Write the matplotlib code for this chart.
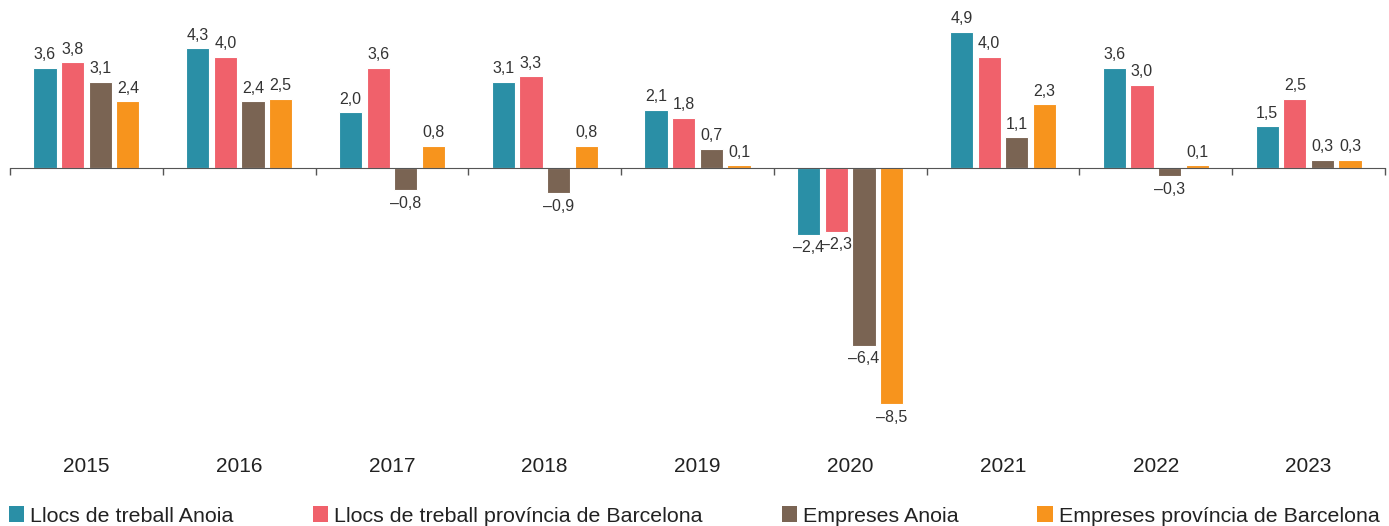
import numpy as np
import matplotlib.pyplot as plt
from matplotlib.patches import Patch
from matplotlib.ticker import FixedLocator

plt.rcParams['font.family'] = ['Liberation Sans', 'DejaVu Sans']

years = ["2015", "2016", "2017", "2018", "2019", "2020", "2021", "2022", "2023"]
llocs_anoia = [3.6, 4.3, 2.0, 3.1, 2.1, -2.4, 4.9, 3.6, 1.5]
llocs_bcn = [3.8, 4.0, 3.6, 3.3, 1.8, -2.3, 4.0, 3.0, 2.5]
empreses_anoia = [3.1, 2.4, -0.8, -0.9, 0.7, -6.4, 1.1, -0.3, 0.3]
empreses_bcn = [2.4, 2.5, 0.8, 0.8, 0.1, -8.5, 2.3, 0.1, 0.3]

series_names = [
    "Llocs de treball Anoia",
    "Llocs de treball província de Barcelona",
    "Empreses Anoia",
    "Empreses província de Barcelona",
]
colors = ["#2a8fa6", "#f0616b", "#7a6453", "#f7941d"]
series = [llocs_anoia, llocs_bcn, empreses_anoia, empreses_bcn]

W, H = 1389, 526
fig = plt.figure(figsize=(W / 100, H / 100), dpi=100)
top_px, bot_px = 10, 440
ax = fig.add_axes([10 / W, 1 - bot_px / H, 1375 / W, (bot_px - top_px) / H])

x = np.arange(len(years))
step = 0.181
width = 0.152


def fmt(v):
    s = f"{abs(v):.1f}".replace(".", ",")
    return ("\u2013" + s) if v < 0 else s


for i, (vals, col, name) in enumerate(zip(series, colors, series_names)):
    pos = x + (i - 1.5) * step
    ax.bar(pos, vals, width, color=col, edgecolor="white",
           linewidth=0.8, label=name, zorder=2)
    for xp, v in zip(pos, vals):
        if v >= 0:
            ax.annotate(fmt(v), (xp, v), xytext=(0, 4), textcoords="offset points",
                        ha="center", va="bottom", fontsize=11.5, color="#333333")
        else:
            ax.annotate(fmt(v), (xp, v), xytext=(0, -4), textcoords="offset points",
                        ha="center", va="top", fontsize=11.5, color="#333333")

scale = 27.8  # px per unit
ax.set_ylim(-(bot_px - 168) / scale, (168 - top_px) / scale)
ax.set_xlim(-0.5, len(years) - 0.5)

for s in ["top", "right", "left"]:
    ax.spines[s].set_visible(False)
ax.spines["bottom"].set_position(("data", 0))
ax.spines["bottom"].set_color("#555555")
ax.spines["bottom"].set_zorder(3)
ax.set_yticks([])
ax.set_xticks([])
ax.xaxis.set_minor_locator(FixedLocator(np.arange(len(years) + 1) - 0.5))
ax.tick_params(axis="x", which="minor", direction="out", length=5,
               width=1, color="#555555")

for xi, yr in zip(x, years):
    ax.text(xi, -(466 - bot_px) / (bot_px - top_px), yr,
            transform=ax.get_xaxis_transform(), ha="center", va="center",
            fontsize=15, color="#222222")

handles = [Patch(facecolor=c, edgecolor="none", label=n)
           for c, n in zip(colors, series_names)]
fig.legend(handles=handles, loc="center left", bbox_to_anchor=(9 / W, 1 - 516 / H),
           ncol=4, frameon=False, fontsize=15.4, handlelength=0.72, handleheight=0.72,
           handletextpad=0.27, columnspacing=3.7, borderpad=0, borderaxespad=0,
           labelcolor="#222222")

fig.savefig("out.png", dpi=100)
